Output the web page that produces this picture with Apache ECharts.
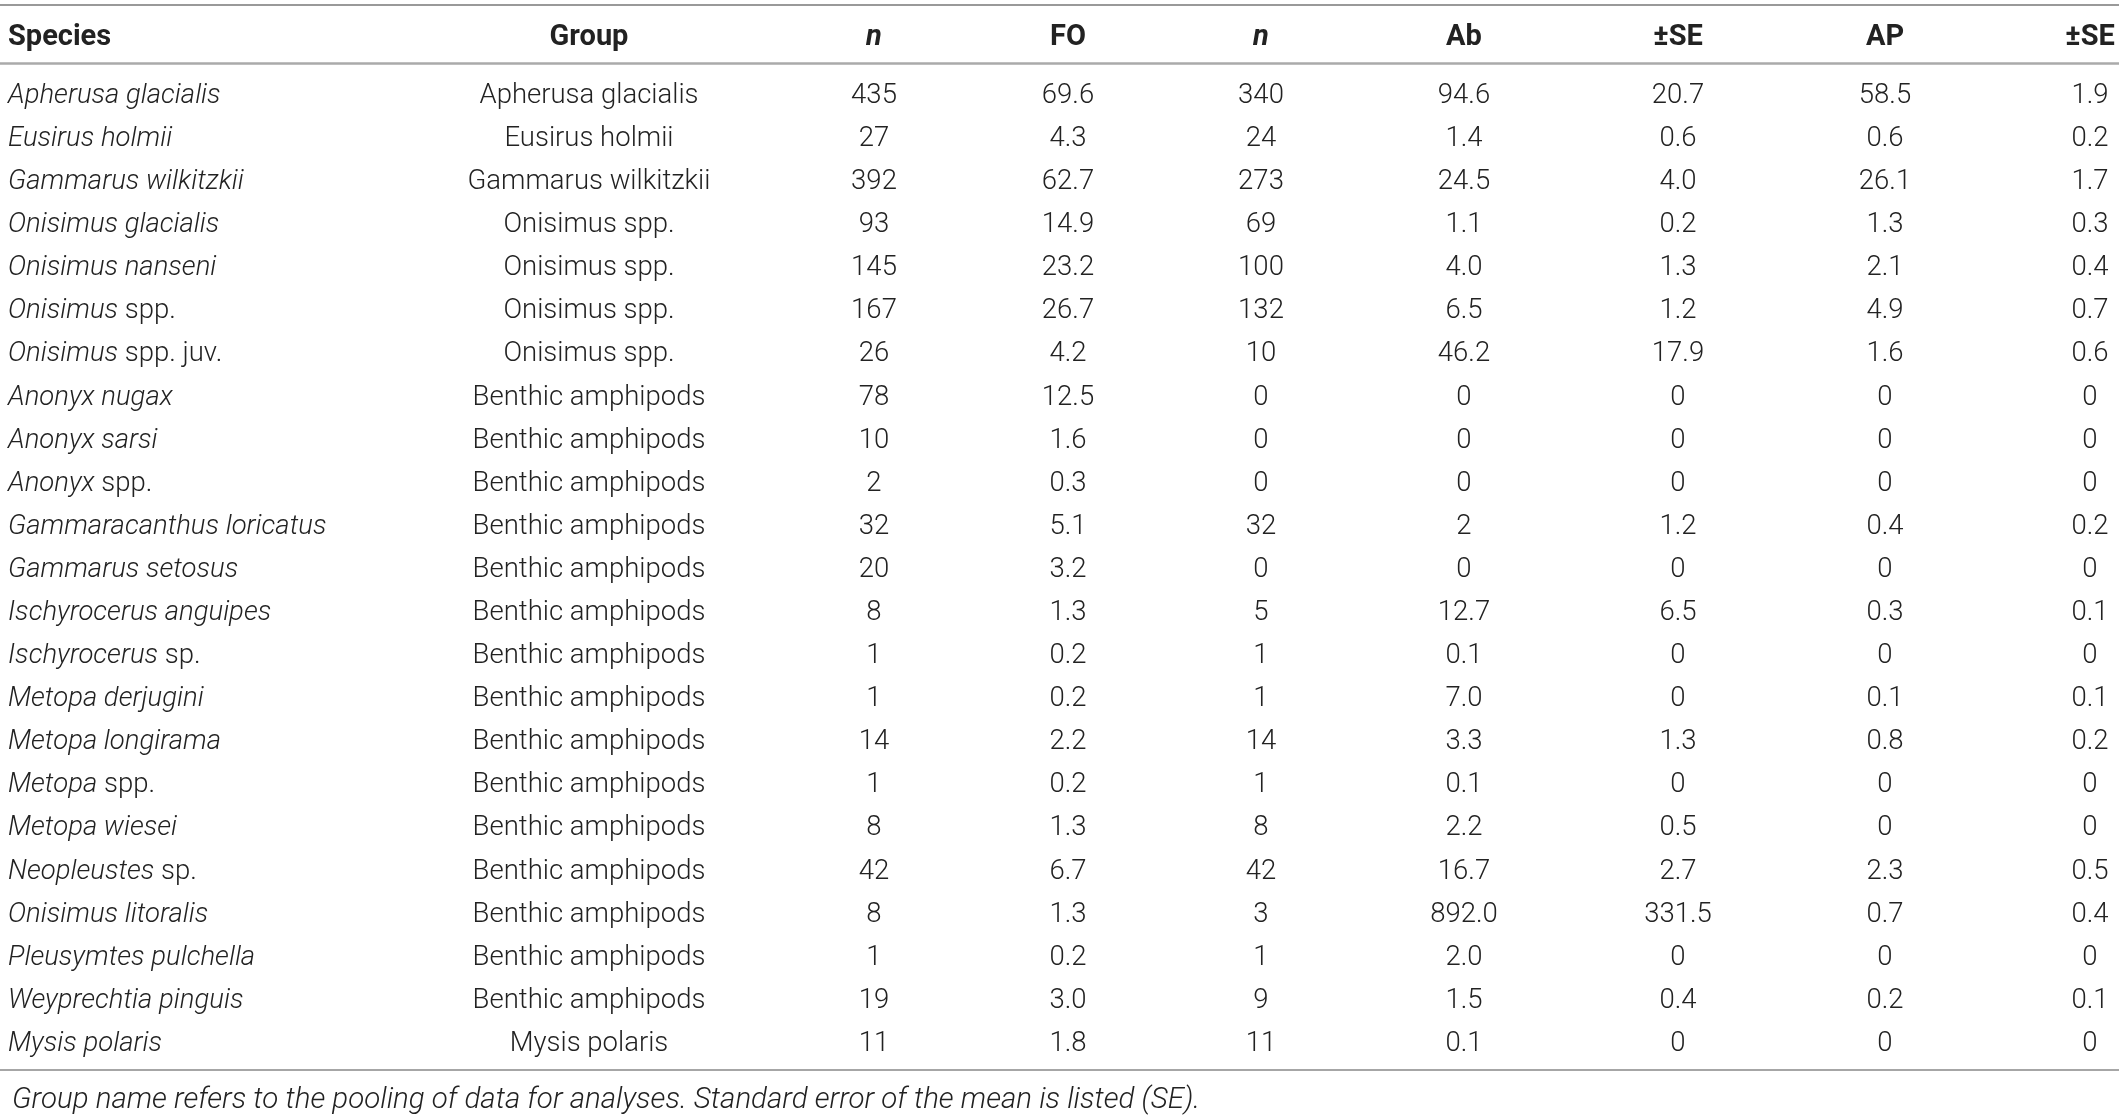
<!DOCTYPE html>
<html>
<head>
<meta charset="utf-8">
<title>Amphipod table</title>
<script src="https://cdn.jsdelivr.net/npm/echarts@6.0.0/dist/echarts.min.js"></script>
<style>
  html, body { margin: 0; padding: 0; background: #fff; }
  #table { width: 2119px; height: 1115px; }
</style>
</head>
<body>
<div id="table"></div>
<script>
// table content
var headers = ['Species', 'Group', 'n', 'FO', 'n', 'Ab', '±SE', 'AP', '±SE'];

var species = [
    'Apherusa glacialis', 'Eusirus holmii', 'Gammarus wilkitzkii', 'Onisimus glacialis',
    'Onisimus nanseni', 'Onisimus spp.', 'Onisimus spp. juv.', 'Anonyx nugax',
    'Anonyx sarsi', 'Anonyx spp.', 'Gammaracanthus loricatus', 'Gammarus setosus',
    'Ischyrocerus anguipes', 'Ischyrocerus sp.', 'Metopa derjugini', 'Metopa longirama',
    'Metopa spp.', 'Metopa wiesei', 'Neopleustes sp.', 'Onisimus litoralis',
    'Pleusymtes pulchella', 'Weyprechtia pinguis', 'Mysis polaris'
];

var groups = [
    'Apherusa glacialis', 'Eusirus holmii', 'Gammarus wilkitzkii', 'Onisimus spp.',
    'Onisimus spp.', 'Onisimus spp.', 'Onisimus spp.', 'Benthic amphipods',
    'Benthic amphipods', 'Benthic amphipods', 'Benthic amphipods', 'Benthic amphipods',
    'Benthic amphipods', 'Benthic amphipods', 'Benthic amphipods', 'Benthic amphipods',
    'Benthic amphipods', 'Benthic amphipods', 'Benthic amphipods', 'Benthic amphipods',
    'Benthic amphipods', 'Benthic amphipods', 'Mysis polaris'
];

var nFound = ['435', '27', '392', '93', '145', '167', '26', '78', '10', '2', '32', '20',
    '8', '1', '1', '14', '1', '8', '42', '8', '1', '19', '11'];
var fo = ['69.6', '4.3', '62.7', '14.9', '23.2', '26.7', '4.2', '12.5', '1.6', '0.3', '5.1', '3.2',
    '1.3', '0.2', '0.2', '2.2', '0.2', '1.3', '6.7', '1.3', '0.2', '3.0', '1.8'];
var nCounted = ['340', '24', '273', '69', '100', '132', '10', '0', '0', '0', '32', '0',
    '5', '1', '1', '14', '1', '8', '42', '3', '1', '9', '11'];
var ab = ['94.6', '1.4', '24.5', '1.1', '4.0', '6.5', '46.2', '0', '0', '0', '2', '0',
    '12.7', '0.1', '7.0', '3.3', '0.1', '2.2', '16.7', '892.0', '2.0', '1.5', '0.1'];
var abSe = ['20.7', '0.6', '4.0', '0.2', '1.3', '1.2', '17.9', '0', '0', '0', '1.2', '0',
    '6.5', '0', '0', '1.3', '0', '0.5', '2.7', '331.5', '0', '0.4', '0'];
var ap = ['58.5', '0.6', '26.1', '1.3', '2.1', '4.9', '1.6', '0', '0', '0', '0.4', '0',
    '0.3', '0', '0.1', '0.8', '0', '0', '2.3', '0.7', '0', '0.2', '0'];
var apSe = ['1.9', '0.2', '1.7', '0.3', '0.4', '0.7', '0.6', '0', '0', '0', '0.2', '0',
    '0.1', '0', '0.1', '0.2', '0', '0', '0.5', '0.4', '0', '0.1', '0'];

var footnote = 'Group name refers to the pooling of data for analyses. Standard error of the mean is listed (SE).';

var columns = [species, groups, nFound, fo, nCounted, ab, abSe, ap, apSe];

// layout
var colX = [8, 589, 874, 1068, 1261, 1464, 1678, 1885, 2090];
var headerRow = -1.35;
var headerRule = -0.696;
var FONT = 'Roboto, "Liberation Sans", Arial, sans-serif';
var TEXT = '#222';
var BODY_SIZE = 27.5;
var TEXT_SHIFT = 3; // roboto sits a little high on "middle"

// genus italic, "sp." / "spp." / "juv." upright
function speciesText(name) {
    var m = name.match(/^(\S+)( spp?\..*)$/);
    if (m) return '{i|' + m[1] + '}{u|' + m[2] + '}';
    return '{i|' + name + '}';
}

var rich = {
    i: { fontFamily: FONT, fontSize: BODY_SIZE, fontStyle: 'italic', fontWeight: 300, fill: TEXT },
    u: { fontFamily: FONT, fontSize: BODY_SIZE, fontWeight: 300, fill: TEXT }
};

var series = [];

// header row
series.push({
    type: 'custom',
    name: 'header',
    data: headers.map(function (h, c) { return [colX[c], headerRow]; }),
    renderItem: function (params, api) {
        var c = params.dataIndex;
        var p = api.coord([api.value(0), api.value(1)]);
        return {
            type: 'text',
            x: p[0],
            y: p[1] + TEXT_SHIFT,
            style: {
                text: headers[c],
                fontFamily: FONT,
                fontSize: 29,
                fontWeight: 'bold',
                fontStyle: headers[c] === 'n' ? 'italic' : 'normal',
                fill: TEXT,
                align: c === 0 ? 'left' : 'center',
                verticalAlign: 'middle'
            }
        };
    },
    markLine: {
        silent: true,
        symbol: 'none',
        label: { show: false },
        lineStyle: { color: '#aaaaaa', width: 2.5, type: 'solid' },
        data: [{ yAxis: headerRule }]
    }
});

// body columns
columns.forEach(function (col, c) {
    series.push({
        type: 'custom',
        name: headers[c] + c,
        data: col.map(function (v, r) { return [colX[c], r]; }),
        renderItem: function (params, api) {
            var p = api.coord([api.value(0), api.value(1)]);
            var txt = col[params.dataIndex];
            var style = {
                fontFamily: FONT,
                fontSize: BODY_SIZE,
                fontWeight: 300,
                fill: TEXT,
                align: c === 0 ? 'left' : 'center',
                verticalAlign: 'middle'
            };
            if (c === 0) {
                style.text = speciesText(txt);
                style.rich = rich;
            } else {
                style.text = txt;
            }
            return { type: 'text', x: p[0], y: p[1] + TEXT_SHIFT, style: style };
        }
    });
});

var chart = echarts.init(document.getElementById('table'));

chart.setOption({
    backgroundColor: '#ffffff',
    animation: false,
    title: {
        text: footnote,
        left: 7,
        top: 1081,
        textStyle: {
            fontFamily: FONT,
            fontSize: 29.5,
            fontStyle: 'italic',
            fontWeight: 300,
            color: TEXT
        }
    },
    grid: { left: 0, right: 0, top: 5, height: 1065 },
    xAxis: [
        {
            type: 'value', min: 0, max: 2119, position: 'top',
            axisLine: { show: true, onZero: false, lineStyle: { color: '#777', width: 1.5 } },
            axisTick: { show: false }, axisLabel: { show: false }, splitLine: { show: false }
        },
        {
            type: 'value', min: 0, max: 2119, position: 'bottom',
            axisLine: { show: true, onZero: false, lineStyle: { color: '#888', width: 1.5 } },
            axisTick: { show: false }, axisLabel: { show: false }, splitLine: { show: false }
        }
    ],
    yAxis: {
        type: 'value', inverse: true, min: -2.042, max: 22.673,
        axisLine: { show: false }, axisTick: { show: false },
        axisLabel: { show: false }, splitLine: { show: false }
    },
    series: series
});
</script>
</body>
</html>
